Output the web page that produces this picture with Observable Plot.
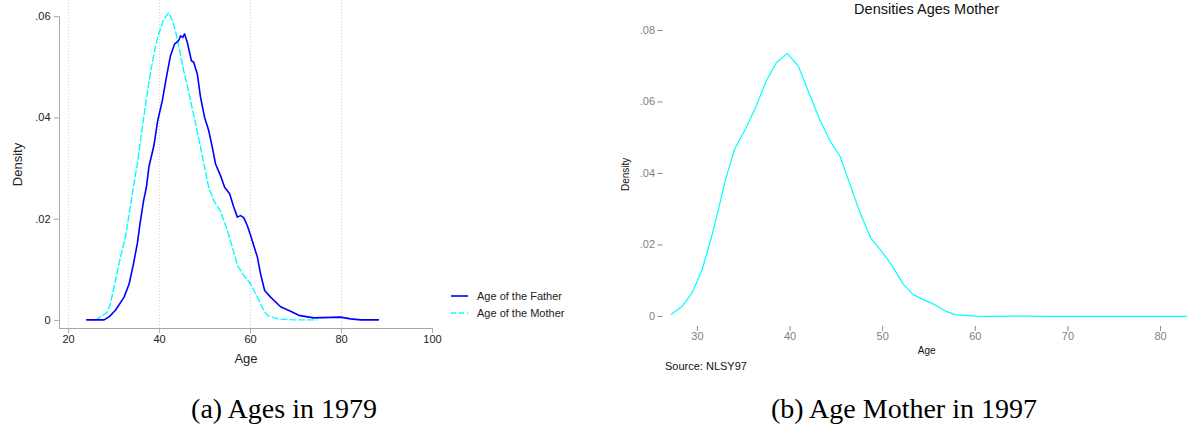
<!DOCTYPE html>
<html>
<head>
<meta charset="utf-8">
<script src="https://cdn.jsdelivr.net/npm/d3@7"></script>
<script src="https://cdn.jsdelivr.net/npm/@observablehq/plot@0.6"></script>
<style>
  html, body { margin: 0; padding: 0; background: #fff; }
  #page { position: relative; width: 1189px; height: 436px; overflow: hidden; background: #fff; }
  .panel { position: absolute; top: 0; }
  .caption { position: absolute; font-family: "Liberation Serif", "Times New Roman", serif; font-size: 28px; color: #000; white-space: nowrap; transform: translateX(-50%); line-height: 1; }
  .legend { position: absolute; left: 450px; top: 287px; font-family: "Liberation Sans", Arial, sans-serif; font-size: 11px; color: #222; }
  .legend div { display: flex; align-items: center; height: 17px; }
  .legend svg { margin-right: 8px; }
</style>
</head>
<body>
<div id="page">
  <div id="left" class="panel" style="left:0px"></div>
  <div id="right" class="panel" style="left:600px"></div>
  <div class="legend" id="legend"></div>
  <div class="caption" style="left:284px; top:395px">(a) Ages in 1979</div>
  <div class="caption" style="left:904px; top:395px">(b) Age Mother in 1997</div>
</div>
<script>
// ---- Data: left panel (1979) ----
const fatherAge = [24.0, 25.5, 27.8, 28.9, 30.3, 32.2, 33.3, 34.2, 35.1, 35.7, 36.5, 37.1, 37.65, 38.75, 39.6, 40.6, 41.5, 42.4, 43.3, 44.2, 44.6, 45.1, 45.5, 46.1, 47.0, 47.5, 48.3, 49.0, 49.9, 50.8, 51.6, 52.3, 53.4, 54.3, 55.4, 56.3, 57.1, 57.8, 58.5, 59.3, 60.0, 60.7, 61.5, 62.2, 63.1, 64.4, 66.6, 68.8, 70.6, 73.9, 79.8, 82.0, 84.2, 88.1];
const fatherDensity = [0.0001, 0.0001, 0.0001, 0.0007, 0.002, 0.0046, 0.0072, 0.0109, 0.0151, 0.0191, 0.0237, 0.0263, 0.0303, 0.0345, 0.0395, 0.0434, 0.048, 0.0523, 0.0546, 0.0553, 0.0562, 0.0559, 0.0566, 0.0549, 0.0513, 0.051, 0.0487, 0.0441, 0.0401, 0.0375, 0.0342, 0.0309, 0.0286, 0.0263, 0.025, 0.0224, 0.0204, 0.0207, 0.0203, 0.0187, 0.0168, 0.0148, 0.0125, 0.0092, 0.0059, 0.0046, 0.0027, 0.0018, 0.001, 0.0005, 0.00065, 0.0003, 0.0001, 0.0001];
const motherAge = [25.9, 27.0, 28.5, 29.2, 30.3, 31.4, 32.5, 33.3, 34.0, 35.1, 36.2, 37.1, 38.0, 38.9, 39.8, 40.8, 41.5, 42.0, 42.8, 43.5, 44.4, 45.3, 46.2, 47.2, 48.1, 49.0, 49.9, 50.8, 51.9, 53.3, 54.9, 56.0, 57.1, 58.5, 60.0, 61.5, 62.9, 63.7, 65.9, 69.5, 74.6];
const motherDensity = [0.0, 0.0007, 0.0016, 0.0033, 0.0079, 0.0125, 0.0164, 0.021, 0.025, 0.0309, 0.0381, 0.0437, 0.049, 0.0533, 0.0566, 0.0592, 0.0602, 0.0608, 0.0592, 0.0572, 0.0533, 0.0493, 0.046, 0.0418, 0.0381, 0.0342, 0.0303, 0.0263, 0.0237, 0.0217, 0.0178, 0.0145, 0.0109, 0.0089, 0.0072, 0.0046, 0.002, 0.001, 0.0003, 0.0001, 0.0001];
const leftXTicks = [20, 40, 60, 80, 100];
const leftGridTicks = [20, 40, 60, 80];
const leftYTicks = [0, 0.02, 0.04, 0.06];
const leftSeriesNames = ["Age of the Father", "Age of the Mother"];

// ---- Data: right panel (1997) ----
const mother97Age = [27.2, 28.35, 29.4, 30.5, 31.6, 32.5, 33.0, 34.0, 35.1, 36.3, 37.4, 38.5, 39.7, 40.9, 42.0, 43.2, 44.3, 45.4, 46.3, 47.6, 48.7, 49.8, 51.0, 52.2, 53.3, 54.4, 55.6, 56.8, 57.8, 60.0, 61.3, 65.2, 68.0, 71.3, 82.8];
const mother97Density = [0.0006, 0.0028, 0.0065, 0.013, 0.023, 0.0325, 0.038, 0.0467, 0.052, 0.0585, 0.0657, 0.0709, 0.0736, 0.070, 0.0628, 0.0551, 0.0492, 0.0448, 0.0382, 0.0287, 0.022, 0.0185, 0.0143, 0.0091, 0.0061, 0.0047, 0.0033, 0.0015, 0.0005, 0.0001, 0.0, 0.0001, 0.0, 0.0, 0.0];
const rightXTicks = [30, 40, 50, 60, 70, 80];
const rightYTicks = [0, 0.02, 0.04, 0.06, 0.08];

const fatherColor = "#0000ff";
const motherColor = "#00ffff";

const father = fatherAge.map((a, i) => ({age: a, density: fatherDensity[i]}));
const mother = motherAge.map((a, i) => ({age: a, density: motherDensity[i]}));
const mother97 = mother97Age.map((a, i) => ({age: a, density: mother97Density[i]}));

const fmt = d => d === 0 ? "0" : d3.format(".2f")(d).replace(/^0/, "");
const sans = "'Liberation Sans', Arial, Helvetica, sans-serif";

const xL = [18, 100], yL = [-0.0016, 0.0632];
const left = Plot.plot({
  width: 600, height: 370,
  marginLeft: 59, marginRight: 168, marginTop: 0, marginBottom: 42,
  x: {domain: xL}, y: {domain: yL},
  style: {fontFamily: sans, fontSize: "11px", color: "#222", background: "transparent"},
  marks: [
    Plot.ruleX(leftGridTicks, {stroke: "#cccccc", strokeDasharray: "1,2"}),
    Plot.ruleX([xL[0]], {y1: yL[0], y2: leftYTicks[leftYTicks.length - 1], stroke: "#a8a8a8"}),
    Plot.ruleY([yL[0]], {x1: xL[0], x2: xL[1], stroke: "#a8a8a8"}),
    Plot.axisY(leftYTicks, {tickSize: 5, tickPadding: 4, tickFormat: fmt, stroke: "#a8a8a8", fill: "#222", label: null}),
    Plot.axisX(leftXTicks, {tickSize: 5, tickPadding: 2, stroke: "#a8a8a8", fill: "#222", label: null}),
    Plot.line(mother, {x: "age", y: "density", stroke: motherColor, strokeWidth: 1.4, strokeDasharray: "6,3"}),
    Plot.line(father, {x: "age", y: "density", stroke: fatherColor, strokeWidth: 1.6}),
    Plot.text(["Density"], {frameAnchor: "left", rotate: -90, dx: -42, textAnchor: "middle", lineAnchor: "middle", fontSize: 13, fill: "#222"}),
    Plot.text(["Age"], {frameAnchor: "bottom", dy: 30, textAnchor: "middle", lineAnchor: "middle", fontSize: 13, fill: "#222"})
  ]
});
document.getElementById("left").appendChild(left);

const xR = [26.5, 83], yR = [-0.0025, 0.082];
const right = Plot.plot({
  width: 589, height: 380,
  marginLeft: 64.5, marginRight: 1.2, marginTop: 22.8, marginBottom: 55.1,
  x: {domain: xR}, y: {domain: yR},
  style: {fontFamily: sans, fontSize: "11px", color: "#222", background: "transparent"},
  marks: [
    Plot.axisY(rightYTicks, {tickSize: 5, tickPadding: 3, dx: -2, tickFormat: fmt, stroke: "#8a8a8a", fill: "#7f7f7f", label: null}),
    Plot.axisX(rightXTicks, {tickSize: 5, tickPadding: 1, dy: 1, stroke: "#8a8a8a", fill: "#7f7f7f", label: null}),
    Plot.line(mother97, {x: "age", y: "density", stroke: motherColor, strokeWidth: 1.2}),
    Plot.text(["Densities Ages Mother"], {frameAnchor: "top", dy: -13.8, textAnchor: "middle", lineAnchor: "middle", fontSize: 14.5, fill: "#111"}),
    Plot.text(["Density"], {frameAnchor: "left", rotate: -90, dx: -39.5, textAnchor: "middle", lineAnchor: "middle", fontSize: 10, fill: "#111"}),
    Plot.text(["Age"], {frameAnchor: "bottom", dy: 25.5, textAnchor: "middle", lineAnchor: "middle", fontSize: 10, fill: "#111"}),
    Plot.text(["Source: NLSY97"], {frameAnchor: "bottom-left", dy: 41, textAnchor: "start", lineAnchor: "middle", fontSize: 11, fill: "#111"})
  ]
});
document.getElementById("right").appendChild(right);

// legend (HTML)
const legend = document.getElementById("legend");
leftSeriesNames.forEach((name, i) => {
  const row = document.createElement("div");
  const dash = i === 1 ? ' stroke-dasharray="5,3"' : '';
  const col = i === 0 ? fatherColor : motherColor;
  row.innerHTML = `<svg width="19" height="4"><line x1="1" x2="18" y1="2" y2="2" stroke="${col}" stroke-width="1.6"${dash}/></svg><span>${name}</span>`;
  legend.appendChild(row);
});
</script>
</body>
</html>
